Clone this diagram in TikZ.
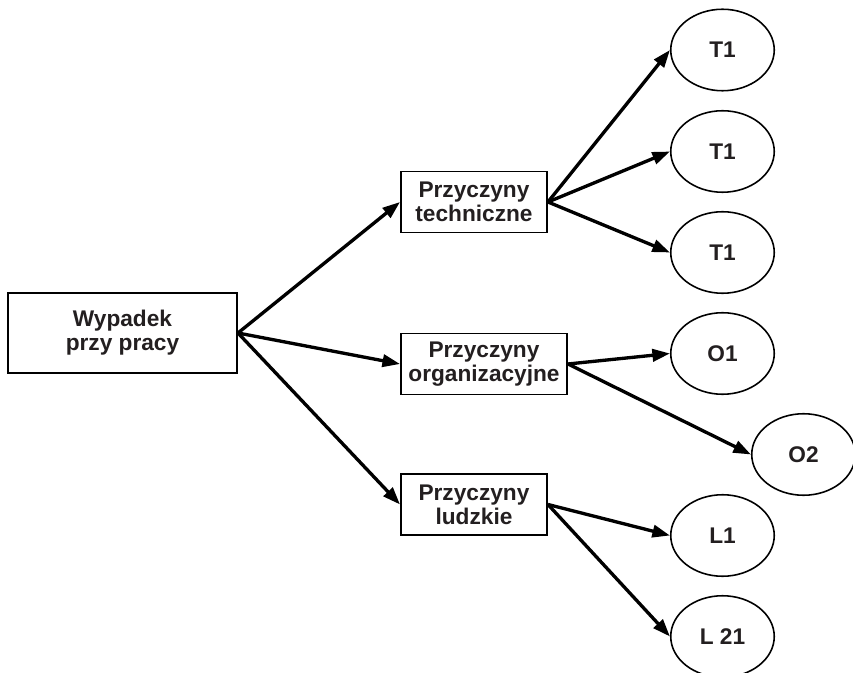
\documentclass[tikz,border=0pt]{standalone}
\usepackage{fontspec}
\setmainfont{Liberation Sans}
\usepackage{xcolor}
\usetikzlibrary{arrows.meta,positioning,shapes.geometric}
\definecolor{ink}{HTML}{231F20}

\tikzset{
  cause/.style={draw=black,line width=1.1pt,fill=white,align=center,inner sep=0pt,
    minimum height=1.22cm,font=\fontsize{12.9}{13.6}\selectfont\bfseries,text=ink},
  leaf/.style={ellipse,draw=black,line width=0.9pt,inner sep=0pt,
    minimum width=2.07cm,minimum height=1.63cm,font=\fontsize{12.9}{13.6}\selectfont\bfseries,text=ink},
  link/.style={line width=1.9pt,-{Triangle[length=10pt,width=7pt]}}
}

\begin{document}
\begin{tikzpicture}
\useasboundingbox (0,0) rectangle (17.06,-13.46);
% root
\node[cause,minimum width=4.58cm,minimum height=1.6cm] (root) at (2.45,-6.66) {Wypadek\\przy pracy};
% groups of causes
\node[cause,minimum width=2.92cm] (tech) at (9.48,-4.04) {Przyczyny\\techniczne};
\node[cause,minimum width=3.32cm] (org) at (9.68,-7.28) {Przyczyny\\organizacyjne};
\node[cause,minimum width=2.92cm] (lud) at (9.48,-10.09) {Przyczyny\\ludzkie};
% single causes
\node[leaf] (ta) at (14.45,-1.0) {T1};
\node[leaf] (tb) at (14.45,-3.03) {T1};
\node[leaf] (tc) at (14.45,-5.05) {T1};
\node[leaf] (oa) at (14.45,-7.07) {O1};
\node[leaf] (ob) at (16.07,-9.09) {O2};
\node[leaf] (la) at (14.45,-10.71) {L1};
\node[leaf] (lb) at (14.45,-12.73) {L 21};

\draw[link] (root.east) -- (tech.west);
\draw[link] (root.east) -- (org.west);
\draw[link] (root.east) -- (lud.west);
\draw[link] (tech.east) -- (ta.west);
\draw[link] (tech.east) -- (tb.west);
\draw[link] (tech.east) -- (tc.west);
\draw[link] (org.east) -- (oa.west);
\draw[link] (org.east) -- (ob.west);
\draw[link] (lud.east) -- (la.west);
\draw[link] (lud.east) -- (lb.west);
\end{tikzpicture}
\end{document}
